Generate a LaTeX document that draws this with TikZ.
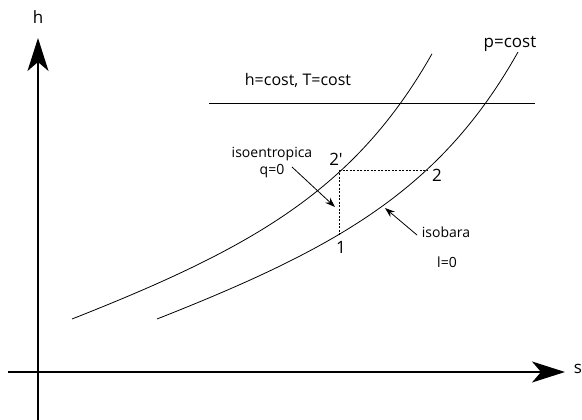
\documentclass[tikz,border=0pt]{standalone}
\usepackage{fontspec}
\setmainfont{Open Sans}[Ligatures=TeXOff]
\usetikzlibrary{positioning,arrows.meta}

\begin{document}
\begin{tikzpicture}[
    x=1pt,y=-1pt,
    declare function={rise(\u)=0.355*\u+3.86*(exp(\u/100)-1);},
    axis/.style={line width=1.5pt,-{Stealth[length=33pt,width=21pt,inset=9pt]}},
    curve/.style={line width=0.8pt},
    guide/.style={dash pattern=on 2pt off 1.5pt,line width=0.6pt},
    pointer/.style={line width=0.8pt,-{Stealth[length=10pt,width=7pt]}},
    lbl/.style={font=\fontsize{14}{17}\selectfont,inner sep=1pt,align=center},
    big/.style={font=\fontsize{17}{19}\selectfont,inner sep=1pt}
  ]
  \useasboundingbox (0,0) rectangle (582,420);
  \coordinate (hfoot) at (38,420);
  \coordinate (htip) at (38,38);
  \coordinate (sfoot) at (8,372);
  \coordinate (stip) at (565,372);
  \node[big] (hlab) at (38,17) {h};
  \node[big] (slab) at (578,369) {s};
  \draw[axis] (hfoot) -- (htip);
  \draw[axis] (sfoot) -- (stip);

  \draw[curve] plot[domain=0:360,samples=80] ({72+\x},{319-rise(\x)});
  \draw[curve] plot[domain=0:361,samples=80] ({157+\x},{319-rise(\x)});

  \coordinate (isoL) at (209,104);
  \coordinate (isoR) at (535,104);
  \draw[line width=1pt] (isoL) -- (isoR);
  \node[font=\fontsize{16}{18}\selectfont] (hTlab) at (298,80) {h=cost, T=cost};
  \node[font=\fontsize{17}{20}\selectfont] (plab) at (510,44) {p=cost};

  \coordinate (p2s) at (339,170);
  \coordinate (p2) at (427,170);
  \coordinate (p1) at (339,235);
  \draw[guide] (p2s) -- (p2);
  \draw[guide] (p2s) -- (p1);
  \node[big] (l2s) at (336,159) {2'};
  \node[big] (l2) at (437,175) {2};
  \node[big] (l1) at (341,247) {1};

  \node[lbl] (isoentr) at (272,163) {isoentropica\\q=0};
  \coordinate (isoTail) at (292,167);
  \coordinate (isoTip) at (335,207);
  \draw[pointer] (isoTail) -- (isoTip);

  \node[lbl] (isob) at (446,232) {isobara};
  \node[lbl] (lav) at (447,262) {l=0};
  \coordinate (isobTail) at (417,235);
  \coordinate (isobTip) at (385,208);
  \draw[pointer] (isobTail) -- (isobTip);
\end{tikzpicture}
\end{document}
